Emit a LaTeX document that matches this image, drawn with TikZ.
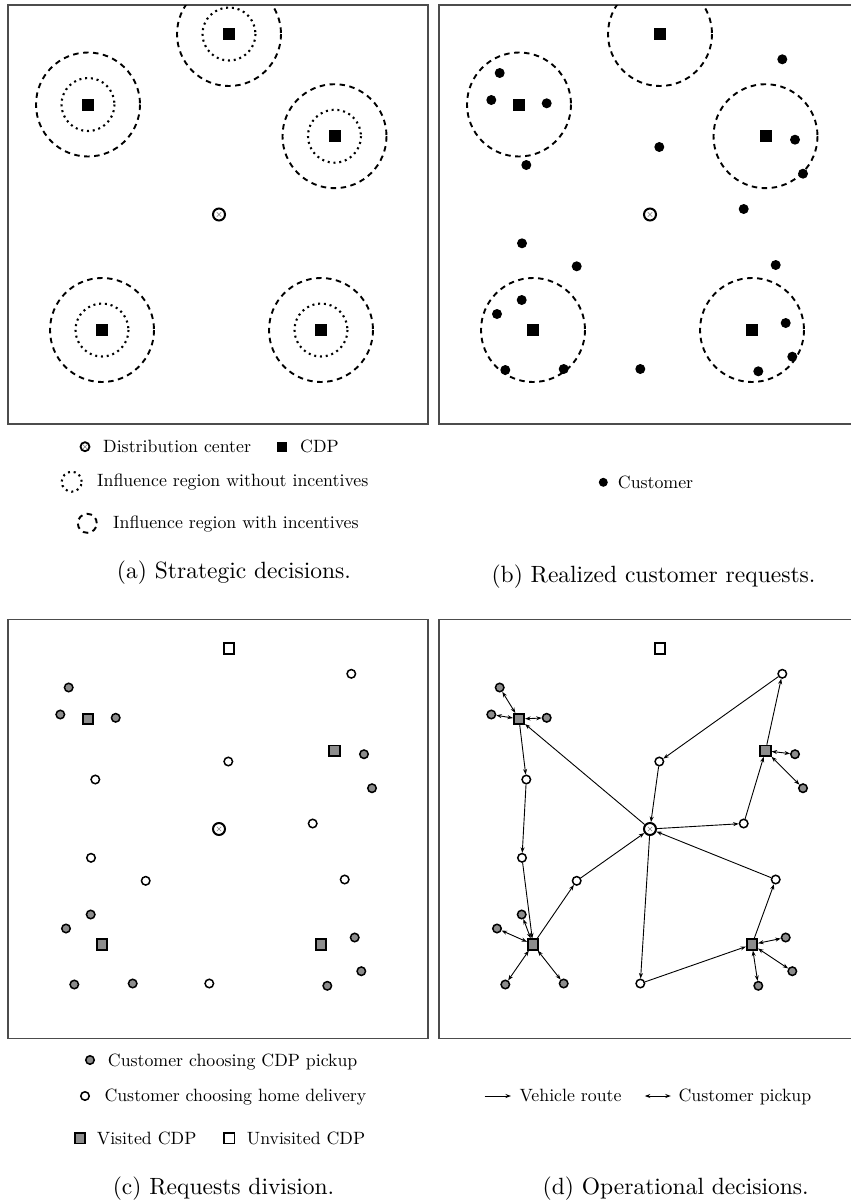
\documentclass[tikz,border=0pt]{standalone}
\usetikzlibrary{arrows.meta}
\definecolor{cgray}{RGB}{140,140,140}
\newcommand\lgs[1]{\scalebox{1.78}{#1}}
\newcommand\cps[1]{\scalebox{2.35}{#1}}
\def\cdplist{T/229/34,L/88/104.5,R/334.5/136.2,BL/102/330,BR/321/330}
\def\custlist{1/68.7/73/g,2/60.3/100/g,3/115.7/103.3/g,4/95.3/165/w,5/228.3/147/w,6/351.3/59.3/w,7/364/139.7/g,8/372/173.7/g,9/312.7/209/w,10/91/243.3/w,11/145.7/266.3/w,12/344.7/265/w,13/90.7/300/g,14/66/314/g,15/74.3/370/g,16/132.7/369/g,17/209.3/369/w,18/354.7/323/g,19/361.3/356.7/g,20/327.3/371.3/g}
\begin{document}
\begin{tikzpicture}[x=1pt,y=-1pt,
  frame/.style={draw=black!70,line width=1.2pt},
  dotc/.style={line width=2.1pt,dash pattern=on 2pt off 3.8pt},
  dashc/.style={line width=1.9pt,dash pattern=on 5.5pt off 4.5pt},
  cdpb/.style={rectangle,fill=black,minimum size=12pt,inner sep=0pt},
  cdpv/.style={rectangle,draw=black,fill=cgray,line width=1.6pt,minimum size=10.5pt,inner sep=0pt},
  cdpu/.style={cdpv,fill=white},
  custb/.style={circle,fill=black,minimum size=10pt,inner sep=0pt},
  custg/.style={circle,draw=black,fill=cgray,line width=1.5pt,minimum size=8.5pt,inner sep=0pt},
  custw/.style={custg,fill=white},
  depot/.style={circle,draw=black,fill=white,line width=2pt,minimum size=12pt,inner sep=0pt,
    path picture={\draw[black!50,line width=0.45pt]
      ([shift={(-2.2,-2.2)}]path picture bounding box.center) -- ([shift={(2.2,2.2)}]path picture bounding box.center)
      ([shift={(-2.2,2.2)}]path picture bounding box.center) -- ([shift={(2.2,-2.2)}]path picture bounding box.center);}},
  route/.style={line width=0.9pt,-{Stealth[length=5.5pt,width=4pt]}},
  pick/.style={line width=0.9pt,{Stealth[length=5.5pt,width=4pt]}-{Stealth[length=5.5pt,width=4pt]}},
  lgd/.style={anchor=base west,inner sep=0pt},
  captxt/.style={anchor=base,inner sep=0pt},
]
\useasboundingbox (0,0) rectangle (851,1202);

% ---------- (a) ----------
\begin{scope}[name prefix=a-]
  \draw[frame] (8,5) rectangle (428,424);
  \begin{scope}
    \clip (8,5) rectangle (428,424);
    \foreach \n/\x/\y in \cdplist {
      \draw[dotc] (\x,\y) circle (26.5);
      \draw[dashc] (\x,\y) circle (52);
    }
  \end{scope}
  \foreach \n/\x/\y in \cdplist { \node[cdpb] (\n) at (\x,\y) {}; }
  \node[depot] (D) at (219,214.5) {};
  % legend
  \node[depot,minimum size=9pt,line width=1.8pt] (lgD) at (85,446.7) {};
  \node[lgd] (lgDt) at (103,452.5) {\lgs{Distribution center}};
  \node[cdpb,minimum size=10pt] (lgC) at (282,446.7) {};
  \node[lgd] (lgCt) at (300,452.5) {\lgs{CDP}};
  \node[circle,draw,dotc,minimum size=20pt,inner sep=0pt] (lgI1) at (71.7,481.7) {};
  \node[lgd] (lgI1t) at (97,486.7) {\lgs{Influence region without incentives}};
  \node[circle,draw,dashc,minimum size=19pt,inner sep=0pt] (lgI2) at (87.3,523.3) {};
  \node[lgd] (lgI2t) at (113,528.3) {\lgs{Influence region with incentives}};
  \node[captxt] (capa) at (234,578.3) {\cps{(a) Strategic decisions.}};
\end{scope}

% ---------- (b) ----------
\begin{scope}[shift={(431,0)},name prefix=b-]
  \draw[frame] (8,5) rectangle (428,424);
  \begin{scope}
    \clip (8,5) rectangle (428,424);
    \foreach \n/\x/\y in \cdplist { \draw[dashc] (\x,\y) circle (52); }
  \end{scope}
  \foreach \n/\x/\y in \cdplist { \node[cdpb] (\n) at (\x,\y) {}; }
  \foreach \n/\x/\y/\t in \custlist { \node[custb] (c\n) at (\x,\y) {}; }
  \node[depot] (D) at (219,214.5) {};
  \node[custb,minimum size=9pt] (lgc) at (172.3,482.3) {};
  \node[lgd] (lgct) at (186.7,488.3) {\lgs{Customer}};
  \node[captxt] (capb) at (222.5,582.3) {\cps{(b) Realized customer requests.}};
\end{scope}

% ---------- (c) ----------
\begin{scope}[shift={(0,614.5)},name prefix=c-]
  \draw[frame] (8,5) rectangle (428,424);
  \node[cdpu] (T) at (229,34) {};
  \node[cdpv] (L) at (88,104.5) {};
  \node[cdpv] (R) at (334.5,136.2) {};
  \node[cdpv] (BL) at (102,330) {};
  \node[cdpv] (BR) at (321,330) {};
  \foreach \n/\x/\y/\t in \custlist { \node[cust\t] (c\n) at (\x,\y) {}; }
  \node[depot] (D) at (219,214.5) {};
\end{scope}
\node[custg] (lgcg) at (90,1060) {};
\node[lgd] (lgcgt) at (107.7,1066) {\lgs{Customer choosing CDP pickup}};
\node[custw] (lgcw) at (85,1096) {};
\node[lgd] (lgcwt) at (104.3,1101.7) {\lgs{Customer choosing home delivery}};
\node[cdpv] (lgv) at (80,1138.3) {};
\node[lgd] (lgvt) at (96.7,1144) {\lgs{Visited CDP}};
\node[cdpu] (lgu) at (229.3,1138.3) {};
\node[lgd] (lgut) at (246.7,1144) {\lgs{Unvisited CDP}};
\node[captxt] (capc) at (223.5,1194) {\cps{(c) Requests division.}};

% ---------- (d) ----------
\begin{scope}[shift={(431,614.5)},name prefix=d-]
  \draw[frame] (8,5) rectangle (428,424);
  \node[cdpu] (T) at (229,34) {};
  \node[cdpv] (L) at (88,104.5) {};
  \node[cdpv] (R) at (334.5,136.2) {};
  \node[cdpv] (BL) at (102,330) {};
  \node[cdpv] (BR) at (321,330) {};
  \foreach \n/\x/\y/\t in \custlist { \node[cust\t] (c\n) at (\x,\y) {}; }
  \node[depot] (D) at (219,214.5) {};
  % vehicle routes
  \draw[route] (D) -- (L);
  \draw[route] (L) -- (c4);
  \draw[route] (c4) -- (c10);
  \draw[route] (c10) -- (BL);
  \draw[route] (BL) -- (c11);
  \draw[route] (c11) -- (D);
  \draw[route] (D) -- (c9);
  \draw[route] (c9) -- (R);
  \draw[route] (R) -- (c6);
  \draw[route] (c6) -- (c5);
  \draw[route] (c5) -- (D);
  \draw[route] (D) -- (c17);
  \draw[route] (c17) -- (BR);
  \draw[route] (BR) -- (c12);
  \draw[route] (c12) -- (D);
  % customer pickups
  \foreach \c in {1,2,3} { \draw[pick] (L) -- (c\c); }
  \foreach \c in {7,8} { \draw[pick] (R) -- (c\c); }
  \foreach \c in {13,14,15,16} { \draw[pick] (BL) -- (c\c); }
  \foreach \c in {18,19,20} { \draw[pick] (BR) -- (c\c); }
\end{scope}
\coordinate (lgr1) at (484.7,1096);
\coordinate (lgr2) at (511,1096);
\draw[route] (lgr1) -- (lgr2);
\node[lgd] (lgrt) at (519.4,1101.7) {\lgs{Vehicle route}};
\coordinate (lgp1) at (644.8,1096);
\coordinate (lgp2) at (670.8,1096);
\draw[pick] (lgp1) -- (lgp2);
\node[lgd] (lgpt) at (678.4,1101.7) {\lgs{Customer pickup}};
\node[captxt] (capd) at (675.7,1194) {\cps{(d) Operational decisions.}};
\end{tikzpicture}
\end{document}
